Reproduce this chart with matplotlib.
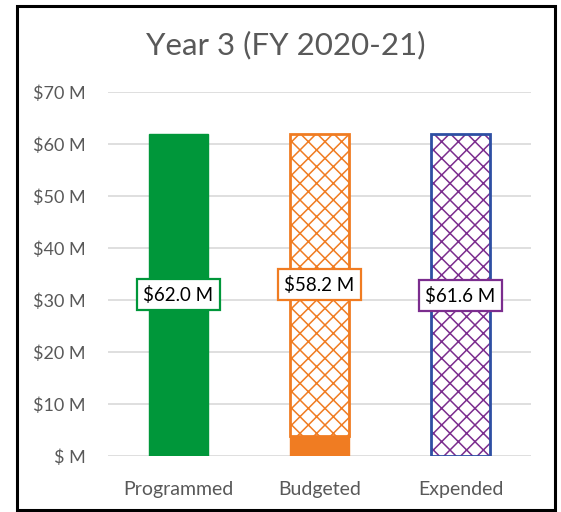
import matplotlib
matplotlib.use("Agg")
import matplotlib.pyplot as plt
from matplotlib.patches import Rectangle

categories = ["Programmed", "Budgeted", "Expended"]
base_values = [62.0, 3.8, 0.0]      # solid bottom segment
hatch_values = [0.0, 58.2, 61.6]    # hatched segment
extra_values = [0.0, 0.0, 0.4]      # small remainder on top of expended
label_values = [62.0, 58.2, 61.6]
yticks = [0, 10, 20, 30, 40, 50, 60, 70]
ytick_labels = ["$ M", "$10 M", "$20 M", "$30 M", "$40 M", "$50 M", "$60 M", "$70 M"]

green = "#00973A"
orange = "#F07C22"
blue = "#2E4FA3"
purple = "#7B2D8E"

plt.rcParams["font.family"] = ["Lato", "DejaVu Sans"]
plt.rcParams["hatch.linewidth"] = 1.1

W, H = 561, 512
fig = plt.figure(figsize=(W / 100, H / 100), dpi=100)
ax = fig.add_axes([108 / W, 1 - 456 / H, (531 - 108) / W, (456 - 92) / H])

x = range(len(categories))
bw = 0.42

# Programmed: solid green
ax.bar(0, base_values[0], width=bw, color=green, edgecolor=green, zorder=3)
# Budgeted: solid bottom + hatched
ax.bar(1, base_values[1], width=bw, color=orange, edgecolor=orange, zorder=3)
ax.bar(1, hatch_values[1], bottom=base_values[1], width=bw, facecolor="white",
       edgecolor=orange, hatch="xx", linewidth=2, zorder=3)
# Expended: blue outline, purple hatch
ax.bar(2, hatch_values[2] + extra_values[2], width=bw, facecolor="white",
       edgecolor=purple, hatch="xx", linewidth=0, zorder=3)
ax.bar(2, hatch_values[2] + extra_values[2], width=bw, facecolor="none",
       edgecolor=blue, linewidth=2, zorder=4)

# labels
label_y = [base_values[0] / 2, base_values[1] + hatch_values[1] / 2, hatch_values[2] / 2]
label_colors = [green, orange, purple]
for i, (v, yy, c) in enumerate(zip(label_values, label_y, label_colors)):
    ax.text(i, yy, f"${v:.1f} M", ha="center", va="center", fontsize=13.5, color="black",
            zorder=6,
            bbox=dict(boxstyle="square,pad=0.35", facecolor="white", edgecolor=c, linewidth=1.6))

ax.set_xlim(-0.5, 2.5)
ax.set_ylim(0, 70)
ax.set_yticks(yticks)
ax.set_yticklabels(ytick_labels, fontsize=13, color="#595959")
ax.set_xticks(list(x))
ax.set_xticklabels(categories, fontsize=14, color="#595959")
ax.tick_params(axis="y", length=0, pad=16)
ax.tick_params(axis="x", length=0, pad=18)
ax.yaxis.grid(True, color="#D9D9D9", linewidth=1.2, zorder=0)
ax.set_axisbelow(True)
for s in ax.spines.values():
    s.set_visible(False)

fig.text(286 / W, 1 - 45 / H, "Year 3 (FY 2020-21)", ha="center", va="center",
         fontsize=22.5, color="#595959")

fig.patches.append(Rectangle((17 / W, 1 - 510 / H), (555 - 17) / W, (510 - 6) / H,
                             transform=fig.transFigure, fill=False, edgecolor="black",
                             linewidth=2.2))

fig.savefig("out.png", dpi=100)
